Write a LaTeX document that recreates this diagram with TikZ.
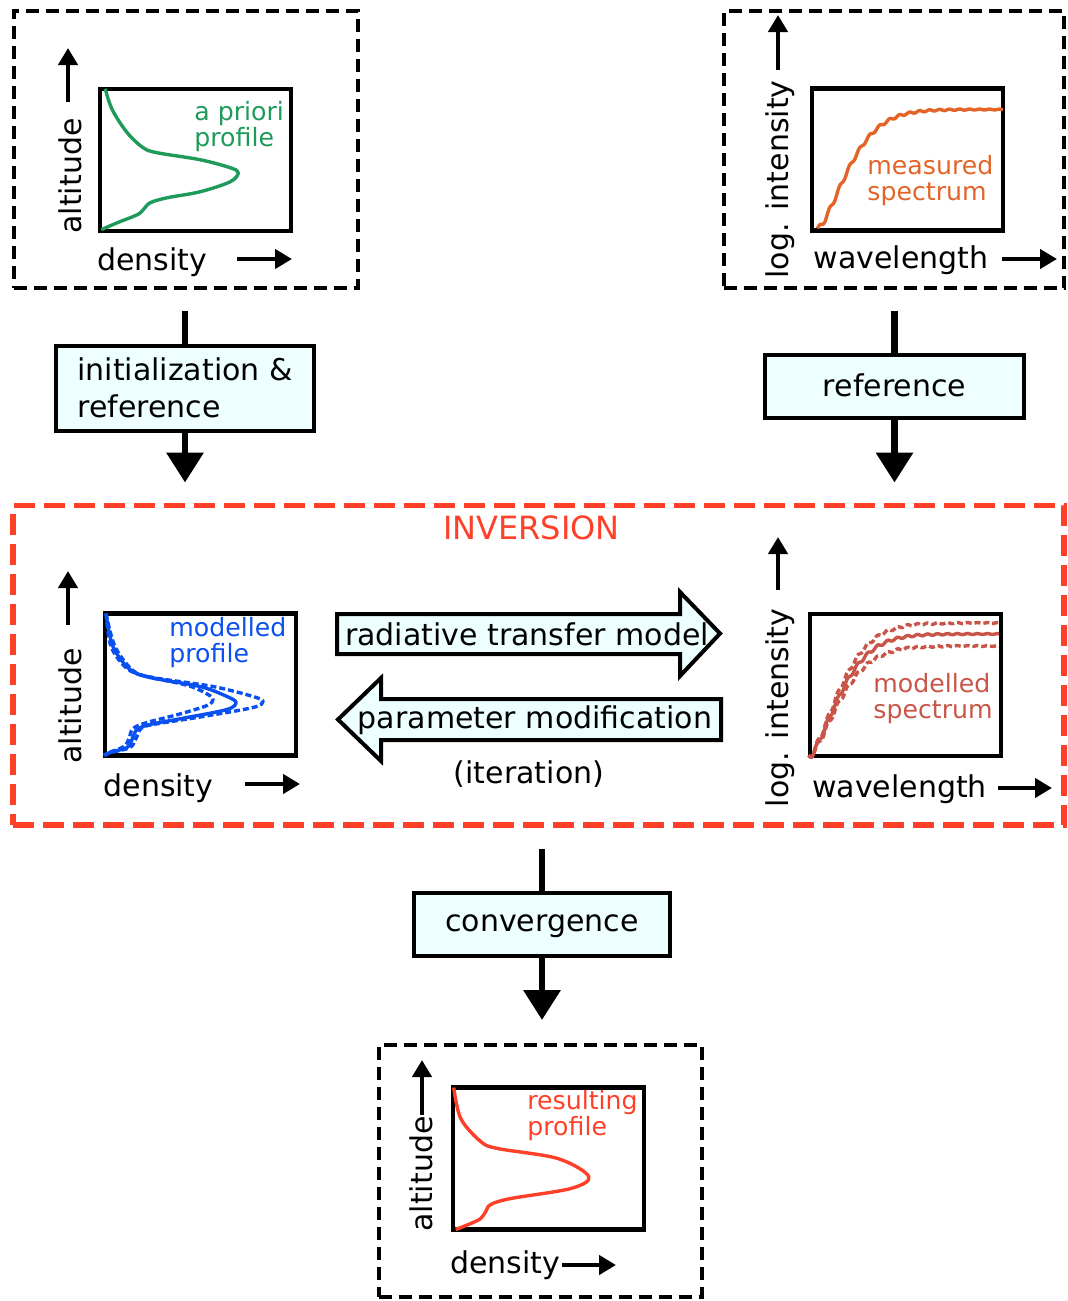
\documentclass[tikz,border=0pt]{standalone}
\usepackage{fontspec}
\setmainfont{DejaVu Sans}
\usetikzlibrary{arrows.meta}

\definecolor{boxfill}{RGB}{238,255,255}
\definecolor{apriorigreen}{RGB}{30,155,90}
\definecolor{measorange}{RGB}{228,100,40}
\definecolor{modblue}{RGB}{10,80,240}
\definecolor{modspec}{RGB}{200,85,72}
\definecolor{invred}{RGB}{255,64,40}

\begin{document}
\begin{tikzpicture}[x=0.5pt,y=-0.5pt,
    lbl/.style={font=\fontsize{15}{18.5}\selectfont, inner sep=0},
    note/.style={font=\fontsize{12.6}{13}\selectfont, inner sep=0, align=left, anchor=west},
    plotbox/.style={draw, line width=2.2pt, minimum width=95.5pt, minimum height=71pt, outer sep=0, inner sep=0},
    dashbox/.style={draw, line width=2pt, dash pattern=on 6.5pt off 3.5pt, outer sep=0, inner sep=0},
    flowbox/.style={draw, line width=2pt, fill=boxfill, outer sep=0, inner sep=0, text depth=0.1em, font=\fontsize{15}{18.5}\selectfont},
    block/.style={draw, line width=2pt, fill=boxfill},
    axis/.style={line width=2.2pt, -{Triangle[width=9.5pt,length=8.5pt]}},
    conn/.style={line width=3.3pt},
    flow/.style={conn, -{Triangle[width=18pt,length=15pt]}},
    curve/.style={line width=1.7pt, line join=round},
    dashcurve/.style={curve, dash pattern=on 3pt off 1.5pt}]
\useasboundingbox (0,0) rectangle (1067,1301);

% a priori profile
\node[dashbox, minimum width=172pt, minimum height=138.5pt] (apriori) at (185.5,149.7) {};
\node[plotbox] (aprioriplot) at (195.75,159.75) {};
\begin{scope}[shift={(aprioriplot.north west)}]
  \draw[curve, apriorigreen] plot[smooth, tension=0.55] coordinates {(5,0) (12,21) (27,44) (43,59) (57,64) (100,71) (130,79) (138,84) (130,93) (100,103) (67,109) (50,114) (43,121) (37,126) (17,134) (1,141)};
\end{scope}
\node[note, apriorigreen] (apriorilbl) at (194,126.3) {a priori\\profile};
\node[lbl, rotate=90, anchor=base] (aprioriy) at (81,176) {altitude};
\node[lbl, anchor=base] (apriorix) at (152,270) {density};
\draw[axis] (68,102) -- (68,48);
\draw[axis] (237,259) -- (292,259);

% measured spectrum
\node[dashbox, minimum width=170.25pt, minimum height=138.5pt] (spectrum) at (893.75,149.5) {};
\node[plotbox] (spectrumplot) at (907.5,159.5) {};
\begin{scope}[shift={(spectrumplot.north west)}]
  \draw[curve, measorange] plot[domain=5.5:191, samples=170, variable=\t]
    ({\t},{141-120*(1-exp(0-pow((\t-5)/40,1.5)))+3*exp(0-\t/90)*sin(36*\t)});
\end{scope}
\node[note, measorange] (spectrumlbl) at (867,181) {measured\\spectrum};
\node[lbl, rotate=90, anchor=base] (spectrumy) at (788,179.5) {log. intensity};
\node[lbl, anchor=base] (spectrumx) at (901,268) {wavelength};
\draw[axis] (778,70) -- (778,15);
\draw[axis] (1002,259) -- (1057,259);

% flow boxes
\node[flowbox, minimum width=129pt, minimum height=42.5pt, align=left] (init) at (185,388.5) {initialization \&\\reference};
\node[flowbox, minimum width=129.5pt, minimum height=31.5pt] (ref) at (894.5,386.5) {reference};

% inversion
\node[draw=invred, line width=2.75pt, dash pattern=on 10.5pt off 4.5pt, minimum width=525.5pt, minimum height=159.75pt, outer sep=0] (inv) at (538.5,665.25) {};
\node[lbl, invred, font=\fontsize{16}{18}\selectfont, anchor=base] (invlbl) at (531.5,539) {INVERSION};

\node[plotbox] (modprofplot) at (200.5,684.5) {};
\begin{scope}[shift={(modprofplot.north west)}]
  \draw[dashcurve, modblue] plot[smooth, tension=0.55] coordinates {(1,0) (10,33) (28,57) (48,64) (108,73) (148,83) (158,88) (148,94) (98,103) (48,111) (36,115) (31,125) (25,134) (6,139) (-1,142)};
  \draw[dashcurve, modblue] plot[smooth, tension=0.55] coordinates {(1,0) (6,33) (22,55) (42,63) (83,72) (103,81) (108,86) (102,92) (73,101) (42,109) (28,115) (24,125) (19,133) (4,139) (-1,142)};
  \draw[curve, modblue] plot[smooth, tension=0.55] coordinates {(1,0) (8,33) (25,56) (45,64) (95,73) (122,83) (131,89) (122,96) (82,104) (45,111) (32,116) (27,126) (22,134) (5,139) (-1,142)};
\end{scope}
\node[note, modblue] (modproflbl) at (169,643) {modelled\\profile};
\node[lbl, rotate=90, anchor=base] (modprofy) at (81,706) {altitude};
\node[lbl, anchor=base] (modprofx) at (158.5,796) {density};
\draw[axis] (68,625) -- (68,571);
\draw[axis] (245,784) -- (300,784);

\draw[block] (337,614) -- (680,614) -- (680,592) -- (720,633.5) -- (680,676) -- (680,654) -- (337,654) -- cycle;
\node[lbl, anchor=base] (rtm) at (527,645) {radiative transfer model};
\draw[block] (721,699) -- (381,699) -- (381,678) -- (338,719.5) -- (381,761) -- (381,740) -- (721,740) -- cycle;
\node[lbl, anchor=base] (parmod) at (535,728) {parameter modification};
\node[lbl, anchor=base] (iter) at (529,783) {(iteration)};

\node[plotbox] (modspecplot) at (905.5,685) {};
\begin{scope}[shift={(modspecplot.north west)}]
  \draw[dashcurve, modspec] plot[domain=-1.5:189, samples=170, variable=\t]
    ({\t},{144-135*(1-exp(0-pow((\t+2)/40,1.5)))+3*exp(0-\t/90)*sin(36*\t)});
  \draw[dashcurve, modspec] plot[domain=-1.5:189, samples=170, variable=\t]
    ({\t},{144-112*(1-exp(0-pow((\t+2)/40,1.5)))+3*exp(0-\t/90)*sin(36*\t)});
  \draw[curve, modspec] plot[domain=-1.5:189, samples=170, variable=\t]
    ({\t},{144-124*(1-exp(0-pow((\t+2)/40,1.5)))+3*exp(0-\t/90)*sin(36*\t)});
\end{scope}
\node[note, modspec] (modspeclbl) at (873,699) {modelled\\spectrum};
\node[lbl, rotate=90, anchor=base] (modspecy) at (788,708) {log. intensity};
\node[lbl, anchor=base] (modspecx) at (899.5,797) {wavelength};
\draw[axis] (778,590) -- (778,537);
\draw[axis] (998,788) -- (1052,788);

% convergence and result
\node[flowbox, minimum width=128pt, minimum height=31.5pt] (conv) at (542,924.5) {convergence};
\node[dashbox, minimum width=161.5pt, minimum height=126pt] (result) at (540,1171) {};
\node[plotbox] (resultplot) at (548.25,1158.5) {};
\begin{scope}[shift={(resultplot.north west)}]
  \draw[curve, invred] plot[smooth, tension=0.55] coordinates {(1,0) (8,31) (28,54) (45,61) (105,71) (136,89) (118,101) (58,111) (38,117) (33,124) (28,131) (18,136) (3,142)};
\end{scope}
\node[note, invred] (resultlbl) at (527,1115.4) {resulting\\profile};
\node[lbl, rotate=90, anchor=base] (resulty) at (432,1174) {altitude};
\node[lbl, anchor=base] (resultx) at (505,1273) {density};
\draw[axis] (422,1115) -- (422,1060);
\draw[axis] (562,1265) -- (616,1265);

% connectors
\draw[conn, shorten <=11.5pt] (init.north |- apriori.south) -- (init.north);
\draw[flow, shorten >=11.5pt] (init.south) -- (init.south |- inv.north);
\draw[conn, shorten <=11.5pt] (ref.north |- spectrum.south) -- (ref.north);
\draw[flow, shorten >=11.5pt] (ref.south) -- (ref.south |- inv.north);
\draw[conn, shorten <=12pt] (conv.north |- inv.south) -- (conv.north);
\draw[flow, shorten >=12.5pt] (conv.south) -- (conv.south |- result.north);
\end{tikzpicture}
\end{document}
